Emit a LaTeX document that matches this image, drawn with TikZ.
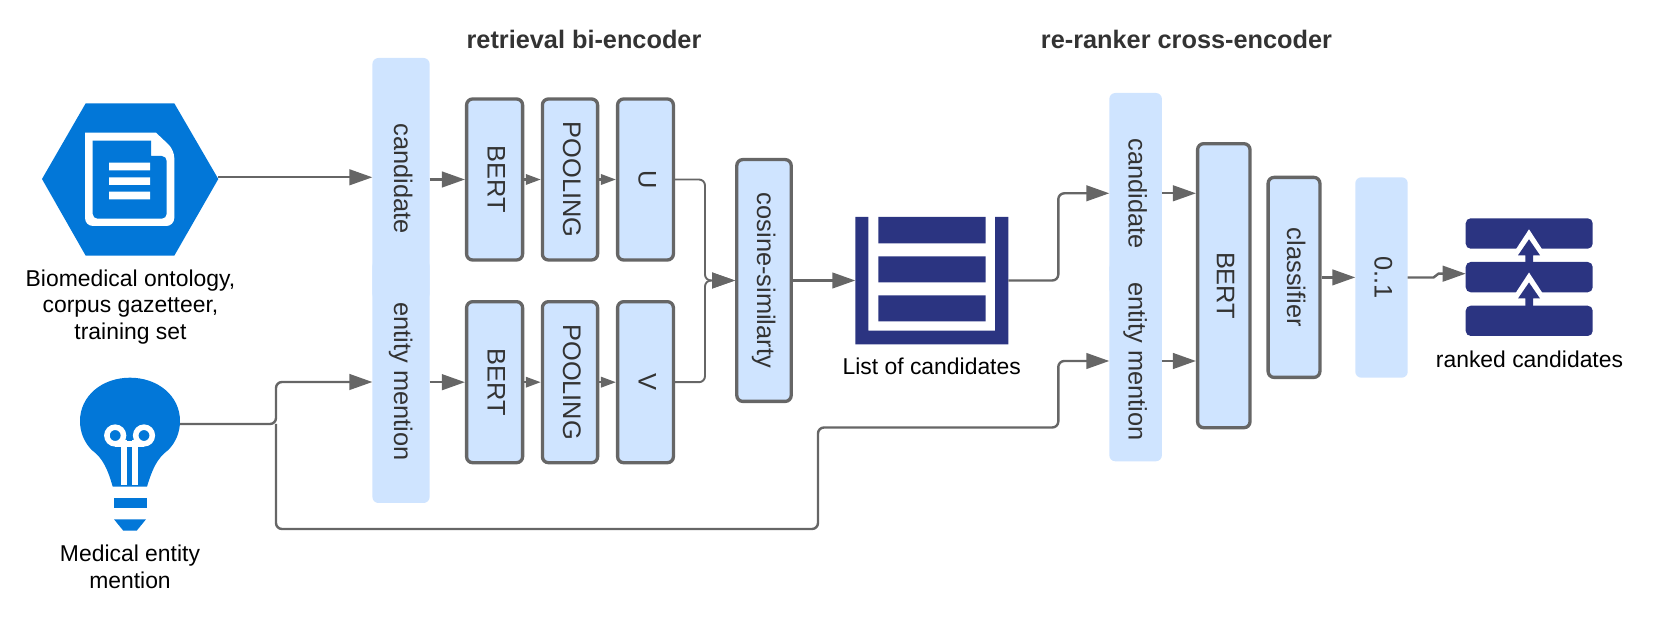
\documentclass[tikz,border=0pt]{standalone}
\usepackage{fontspec}
\setmainfont{Liberation Sans}
\usetikzlibrary{arrows.meta}
\definecolor{boxfill}{HTML}{CFE4FF}
\definecolor{edge}{HTML}{666666}
\definecolor{navy}{HTML}{2B3481}
\definecolor{azure}{HTML}{0277D8}
\definecolor{ink}{HTML}{333333}
\newcommand{\rt}[1]{\rotatebox[origin=c]{-90}{\raisebox{0pt}[7pt][0pt]{#1}}}
\tikzset{
  block/.style={fill=boxfill,text=ink,rounded corners=3pt,inner sep=0pt,outer sep=0pt,font=\fontsize{12.7}{14}\selectfont},
  framed/.style={block,draw=edge,line width=1.65pt,outer sep=.825pt},
  conn/.style={draw=edge,line width=1.2pt,rounded corners=3pt,-{Triangle[length=11.5pt,width=7.8pt]}},
  thinconn/.style={conn,line width=.95pt},
  shortconn/.style={draw=edge,line width=1.1pt,-{Triangle[length=7.5pt,width=5.2pt]}},
  caption/.style={align=center,text=black,font=\fontsize{11.45}{13.3}\selectfont},
  heading/.style={text=ink,font=\bfseries\fontsize{12.65}{14}\selectfont},
  anchorbox/.style={inner sep=0pt,outer sep=0pt},
}
\begin{document}
\begin{tikzpicture}[x=.5pt,y=-.5pt]
\useasboundingbox (0,0) rectangle (1660,619);
% headings
\node[heading] (t1) at (584,39) {retrieval bi-encoder};
\node[heading] (t2) at (1186.5,39) {re-ranker cross-encoder};
% ontology icon
\fill[azure] (42,179) -- (85.7,103.3) -- (174.3,103.3) -- (218.3,179) -- (174.3,255.7) -- (85.7,255.7) -- cycle;
\fill[white,rounded corners=4pt] (85,132.7) -- (85,226) -- (174.3,226) -- (174.3,150) [sharp corners] -- (156,132.7) -- cycle;
\fill[azure,rounded corners=2.5pt] (92.7,140.7) -- (92.7,218.7) -- (166.7,218.7) -- (166.7,156) [sharp corners] -- (151,156) -- (151,140.7) -- cycle;
\fill[white] (109,162.7) rectangle (150,170.3) (109,177.3) rectangle (150,185) (109,191.7) rectangle (150,199.3);
\node[anchorbox,minimum width=88.15pt,minimum height=76pt] (onto) at (130.2,177.3) {};
\node[caption] (ontotext) at (130.5,307) {Biomedical ontology,\\corpus gazetteer,\\training set};
% bulb icon
\fill[azure] (112.7,486.7) .. controls (108,470) and (103,458) .. (91.7,450) .. controls (84,442) and (80,432) .. (80,421) .. controls (80,396) and (102,377.7) .. (130,377.7) .. controls (158,377.7) and (180,396) .. (180,421) .. controls (180,432) and (176,442) .. (168.3,450) .. controls (157,458) and (152,470) .. (147,486.7) -- cycle;
\draw[white,line width=2.9pt] (123.8,440) -- (123.8,485) (135.3,440) -- (135.3,485);
\draw[white,line width=2.75pt] (115.2,435.5) circle[radius=8.3] (144,435.5) circle[radius=8.3];
\draw[white,line width=2.75pt] (115.2,443.8) -- (144,443.8);
\fill[azure] (114,497.7) rectangle (146.7,508.3);
\fill[azure] (114,519.3) -- (146,519.3) -- (136.7,530.7) -- (123.3,530.7) -- cycle;
\node[anchorbox,minimum width=50pt,minimum height=76pt] (bulb) at (130,424) {};
\node[caption] (bulbtext) at (130,567) {Medical entity\\mention};
% encoder inputs
\node[block,minimum width=28.6pt,minimum height=121pt] (cand1) at (401,179) {\rt{candidate}};
\node[block,minimum width=28.6pt,minimum height=121.5pt] (ent1) at (401,381.5) {\rt{entity mention}};
% upper encoder
\node[framed,minimum width=28pt,minimum height=80.5pt] (bertU) at (494.6,179.5) {\rt{BERT}};
\node[framed,minimum width=27.6pt,minimum height=80.5pt] (poolU) at (570,179.5) {\rt{POOLING}};
\node[framed,minimum width=27.9pt,minimum height=80.5pt] (vecU) at (645.5,179.5) {\rt{U}};
% lower encoder
\node[framed,minimum width=28pt,minimum height=80.5pt] (bertV) at (494.6,382.2) {\rt{BERT}};
\node[framed,minimum width=27.6pt,minimum height=80.5pt] (poolV) at (570,382.2) {\rt{POOLING}};
\node[framed,minimum width=27.9pt,minimum height=80.5pt] (vecV) at (645.5,382.2) {\rt{V}};
\node[framed,minimum width=27.2pt,minimum height=120.9pt] (cos) at (764,280.5) {\rt{cosine-similarty}};
% list icon
\fill[navy] (855.3,217) -- (868.3,217) -- (868.3,330.7) -- (995,330.7) -- (995,217) -- (1008.3,217) -- (1008.3,344.3) -- (855.3,344.3) -- cycle;
\fill[navy] (878.3,217) rectangle (985.7,243.3) (878.3,256.3) rectangle (985.7,282.3) (878.3,295.3) rectangle (985.7,321.3);
\node[anchorbox,minimum width=76.5pt,minimum height=63.6pt] (list) at (931.8,280.5) {};
\node[caption] (listtext) at (931.7,366) {List of candidates};
% re-ranker
\node[block,minimum width=26.3pt,minimum height=101pt] (cand2) at (1135.6,194) {\rt{candidate}};
\node[block,minimum width=26.3pt,minimum height=99.6pt] (ent2) at (1135.6,361.7) {\rt{entity mention}};
\node[framed,minimum width=26.2pt,minimum height=142pt] (bert2) at (1223.8,285.7) {\rt{BERT}};
\node[framed,minimum width=25.9pt,minimum height=100pt] (clf) at (1294,277.4) {\rt{classifier}};
\node[block,minimum width=26.2pt,minimum height=100.2pt] (score) at (1381.5,277.5) {\rt{0..1}};
% ranked icon
\fill[navy,rounded corners=2.5pt] (1465.7,218.3) rectangle (1592.7,248.7);
\fill[navy,rounded corners=2.5pt] (1465.7,262) rectangle (1592.7,292.3);
\fill[navy,rounded corners=2.5pt] (1465.7,305.7) rectangle (1592.7,336);
\foreach \yy in {229.3,272.5} {
  \fill[white] (1529,\yy) -- (1546,\yy+26) -- (1512,\yy+26) -- cycle;
  \fill[navy] (1529,\yy+10) -- (1540,\yy+26) -- (1533,\yy+26) -- (1533,\yy+33.5) -- (1525.3,\yy+33.5) -- (1525.3,\yy+26) -- (1518,\yy+26) -- cycle;
}
\node[anchorbox,minimum width=63.5pt,minimum height=58.8pt] (ranked) at (1529.2,273.7) {};
\node[caption] (rankedtext) at (1529.5,359) {ranked candidates};
% waypoints
\coordinate (fork) at (276,424);
\coordinate (upTurn) at (276,382);
\coordinate (downTurn) at (276,529);
\coordinate (busA) at (818,529);
\coordinate (busB) at (818,427.5);
\coordinate (riseA) at (1058.3,427.5);
\coordinate (riseB) at (1058.3,361);
\coordinate (riseC) at (1058.3,193.3);
\coordinate (mergeX) at (705,280.5);
\coordinate (jogA) at (1435.5,277.5);
\coordinate (jogB) at (1436.5,273.7);
% connectors
\draw[conn] (onto.east) -- (onto.east -| cand1.west);
\draw[conn] (bulb.east) -- (fork) -- (upTurn) -- (upTurn -| cand1.west);
\draw[conn] (fork) -- (downTurn) -- (busA) -- (busB) -- (riseA) -- (riseB) -- (riseB -| ent2.west);
\draw[conn] (bertU.west -| cand1.east) -- (bertU.west);
\draw[conn] (bertV.west -| ent1.east) -- (bertV.west);
\draw[shortconn] (bertU.east) -- (poolU.west);
\draw[shortconn] (poolU.east) -- (vecU.west);
\draw[shortconn] (bertV.east) -- (poolV.west);
\draw[shortconn] (poolV.east) -- (vecV.west);
\draw[thinconn] (vecU.east) -- (vecU.east -| mergeX) -- (mergeX) -- (cos.west);
\draw[thinconn] (vecV.east) -- (vecV.east -| mergeX) -- (mergeX) -- (cos.west);
\draw[conn] (cos.east) -- (list.west);
\draw[conn] (list.east) -- (list.east -| riseC) -- (riseC) -- (riseC -| cand2.west);
\draw[conn] (riseC -| cand2.east) -- (riseC -| bert2.west);
\draw[conn] (riseB -| ent2.east) -- (riseB -| bert2.west);
\draw[conn] (clf.east) -- (clf.east -| score.west);
\draw[conn,rounded corners=1pt] (score.east) -- (jogA) -- (jogB) -- (ranked.west);
\end{tikzpicture}
\end{document}
